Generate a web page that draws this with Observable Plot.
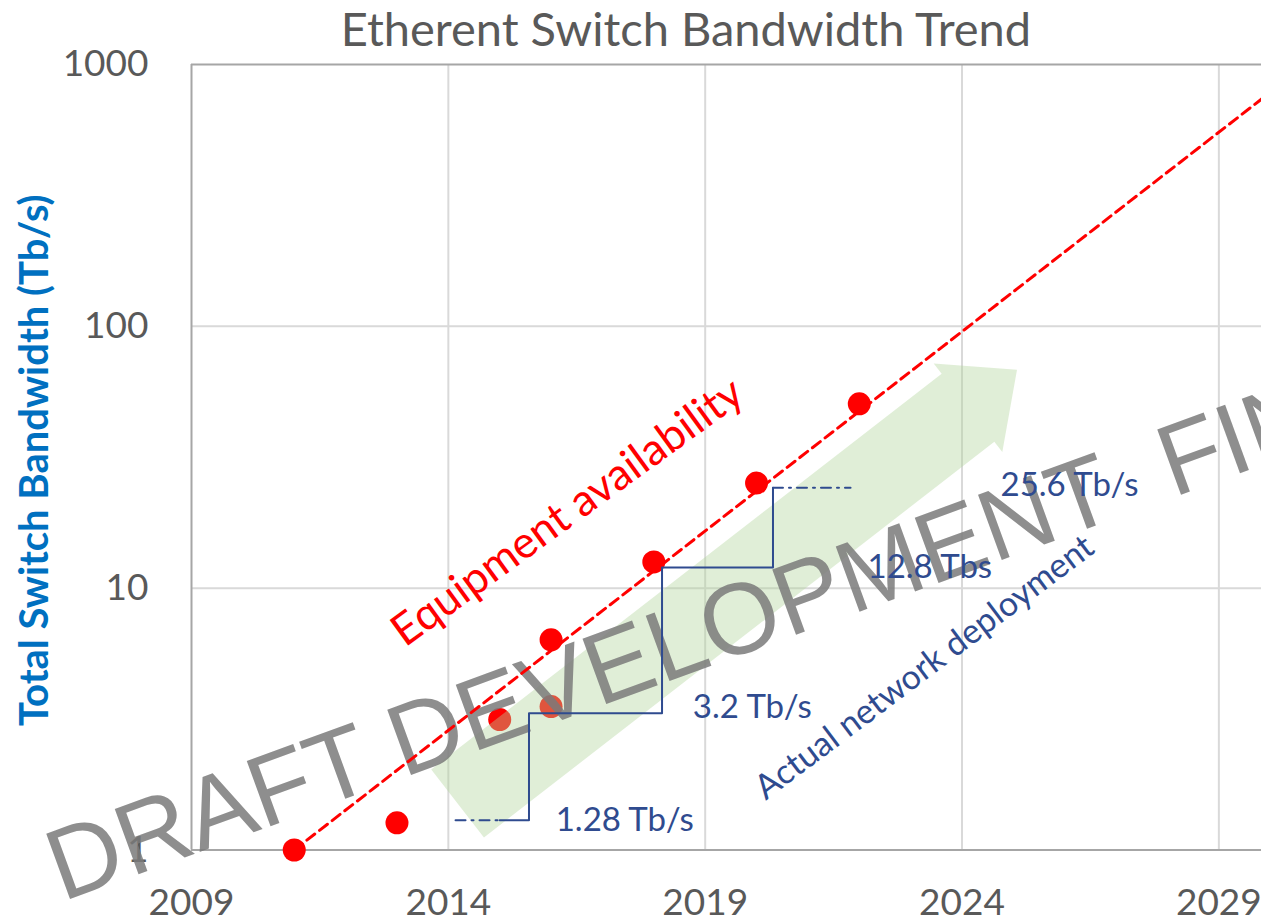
<!DOCTYPE html>
<html><head><meta charset="utf-8">
<script src="https://cdn.jsdelivr.net/npm/d3@7"></script>
<script src="https://cdn.jsdelivr.net/npm/@observablehq/plot@0.6"></script>
<style>
html,body{margin:0;padding:0;background:#fff;overflow:hidden;}
#wrap{position:relative;width:1261px;height:922px;}
#title{position:absolute;left:686px;top:0;transform:translateX(-50%);white-space:nowrap;font-family:Lato,sans-serif;font-size:47px;color:#595959;line-height:56px;z-index:2;}
#chart{position:absolute;left:0;top:0;}
</style></head><body>
<div id="wrap">
<div id="chart"></div>
<div id="title">Etherent Switch Bandwidth Trend</div>
</div>
<script>
// ---- data ----
const xTicks = [2009, 2014, 2019, 2024, 2029];
const yTicks = [1, 10, 100, 1000];
const dotYears  = [2011, 2013, 2015, 2016, 2016, 2018, 2020, 2022];
const dotValues = [1.0, 1.27, 3.15, 3.53, 6.35, 12.6, 25.2, 50.6];
const trendYears  = [2011, 2030];
const trendValues = [1, 783];
const stepYears  = [2015.0, 2015.57, 2015.57, 2018.16, 2018.16, 2020.32, 2020.32];
const stepValues = [1.3, 1.3, 3.33, 3.33, 12.0, 12.0, 24.2];
const dashYearsLow  = [2014.14, 2015.0];
const dashValuesLow = [1.3, 1.3];
const dashYearsHigh  = [2020.32, 2021.83];
const dashValuesHigh = [24.2, 24.2];
const labelTexts  = ["1.28 Tb/s", "3.2 Tb/s", "12.8 Tbs", "25.6 Tb/s"];
const labelYears  = [2016.09, 2018.76, 2022.16, 2024.75];
const labelValues = [1.3, 3.5, 12.0, 24.6];
const equipText = "Equipment availability";
const equipPos = [2016.32, 19.5];
const deployText = "Actual network deployment";
const deployPos = [2023.27, 4.98];
const watermarkText = "DRAFT DEVELOPMENT\u00a0\u00a0FINAL";
const watermarkPos = [2006.27, 0.828];
const arrowTail = [2014.19, 1.50];
const arrowTip  = [2025.08, 67.9];
const yLabel = "Total Switch Bandwidth (Tb/s)";

// ---- tables ----
const dots = dotYears.map((x, i) => ({x, y: dotValues[i]}));
const trend = trendYears.map((x, i) => ({x, y: trendValues[i]}));
const steps = stepYears.map((x, i) => ({x, y: stepValues[i]}));
const dashLow = dashYearsLow.map((x, i) => ({x, y: dashValuesLow[i]}));
const dashHigh = dashYearsHigh.map((x, i) => ({x, y: dashValuesHigh[i]}));
const labels = labelTexts.map((t, i) => ({t, x: labelYears[i], y: labelValues[i]}));

const blue = "#2F4B8F";

function arrowMark(index, scales) {
  const x0 = scales.x(arrowTail[0]), y0 = scales.y(arrowTail[1]);
  const x1 = scales.x(arrowTip[0]), y1 = scales.y(arrowTip[1]);
  const L = Math.hypot(x1 - x0, y1 - y0);
  const ux = (x1 - x0) / L, uy = (y1 - y0) / L;
  const nx = -uy, ny = ux;
  const sw = 43, hw = 56, hl = 62;
  const bx = x1 - ux * hl, by = y1 - uy * hl;
  const pts = [
    [x0 + nx * sw, y0 + ny * sw], [bx + nx * sw, by + ny * sw], [bx + nx * hw, by + ny * hw],
    [x1, y1], [bx - nx * hw, by - ny * hw], [bx - nx * sw, by - ny * sw], [x0 - nx * sw, y0 - ny * sw]
  ];
  const p = document.createElementNS("http://www.w3.org/2000/svg", "path");
  p.setAttribute("d", "M" + pts.map(q => q.join(",")).join("L") + "Z");
  p.setAttribute("fill", "#b2d49b");
  p.setAttribute("fill-opacity", "0.40");
  return p;
}

const chart = Plot.plot({
  width: 1261,
  height: 922,
  marginLeft: 191,
  marginRight: 0,
  marginTop: 64,
  marginBottom: 72.5,
  style: {fontFamily: "Lato, sans-serif", fontSize: "37px", color: "#595959", background: "white"},
  x: {domain: [2009, 2029.83], ticks: xTicks, tickFormat: d => String(d), tickSize: 0, tickPadding: 39, label: null},
  y: {type: "log", domain: [1, 1000], ticks: yTicks, tickFormat: d => String(d), tickSize: 0, tickPadding: 43, label: null},
  marks: [
    Plot.ruleX(xTicks.slice(1), {stroke: "#d9d9d9", strokeWidth: 2}),
    Plot.ruleY(yTicks.slice(1, 3), {stroke: "#d9d9d9", strokeWidth: 2}),
    Plot.ruleY([yTicks[0], yTicks[3]], {stroke: "#a6a6a6", strokeWidth: 2}),
    Plot.ruleX([xTicks[0]], {stroke: "#a6a6a6", strokeWidth: 2}),
    Plot.dot(dots, {x: "x", y: "y", r: 11.5, fill: "#ff0000", stroke: "none"}),
    arrowMark,
    Plot.text([watermarkText], {x: () => watermarkPos[0], y: () => watermarkPos[1], text: d => d,
      textAnchor: "start", rotate: -20, fontSize: 101, fontFamily: "Liberation Sans, Arial, sans-serif",
      fill: "#7a7a7a", fillOpacity: 0.85}),
    Plot.line(trend, {x: "x", y: "y", stroke: "#ff0000", strokeWidth: 3, strokeDasharray: "10,6"}),
    Plot.line(steps, {x: "x", y: "y", stroke: blue, strokeWidth: 2}),
    Plot.line(dashLow, {x: "x", y: "y", stroke: blue, strokeWidth: 2, strokeDasharray: "10,6,2,6"}),
    Plot.line(dashHigh, {x: "x", y: "y", stroke: blue, strokeWidth: 2, strokeDasharray: "10,6,2,6"}),
    Plot.text(labels, {x: "x", y: "y", text: "t", textAnchor: "start", fill: blue, fontSize: 33}),
    Plot.text([equipText], {x: () => equipPos[0], y: () => equipPos[1], text: d => d, rotate: -36,
      fill: "#ff0000", fontSize: 44}),
    Plot.text([deployText], {x: () => deployPos[0], y: () => deployPos[1], text: d => d, rotate: -37,
      fill: blue, fontSize: 34}),
    Plot.text([yLabel], {frameAnchor: "left", textAnchor: "middle", text: d => d, rotate: -90, dx: -156, dy: 3,
      fill: "#0070C0", fontWeight: "bold", fontSize: 40})
  ]
});
document.getElementById("chart").appendChild(chart);
</script>
</body></html>
